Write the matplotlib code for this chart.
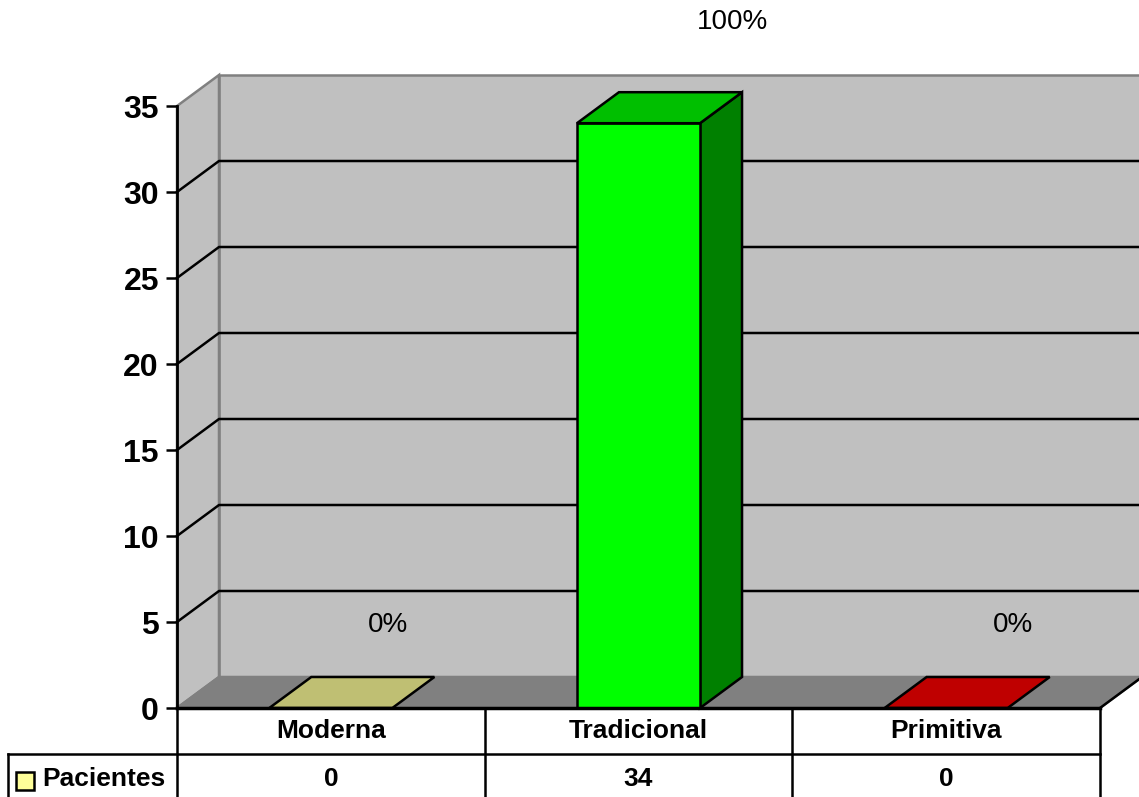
import numpy as np
import matplotlib
matplotlib.use("Agg")
from matplotlib import pyplot as plt
from matplotlib.patches import Polygon, Rectangle
import matplotlib.transforms as mtransforms
from matplotlib.colors import to_rgb

categorias = ["Moderna", "Tradicional", "Primitiva"]
pacientes = [0, 34, 0]
serie = "Pacientes"
colores = ["#FFFF99", "#00FF00", "#FF0000"]
yticks = [0, 5, 10, 15, 20, 25, 30, 35]

# offsets of the percentage labels (category units, value units)
etiqueta_dx = [0.186, 0.307, 0.217]
etiqueta_dy = [4.8, 5.9, 4.8]

plt.rcParams['font.family'] = ['Liberation Sans', 'DejaVu Sans']

W, H = 1139, 797
fig = plt.figure(figsize=(W / 100, H / 100), dpi=100)
ax = fig.add_axes([177 / W, 89 / H, 923 / W, 602 / H])
ax.set_xlim(0, len(categorias))
ax.set_ylim(0, 35)

n = len(categorias)
# depth of the box in data units
DX = 42 * n / 923
DY = 31 * 35 / 602
LW = 1.8

pared = "#C0C0C0"
piso = "#808080"
borde = "#808080"

# walls and floor
ax.add_patch(Polygon([(DX, DY), (n + DX, DY), (n + DX, 35 + DY), (DX, 35 + DY)],
                     closed=True, fc=pared, ec=borde, lw=LW, clip_on=False, zorder=1))
ax.add_patch(Polygon([(0, 0), (DX, DY), (DX, 35 + DY), (0, 35)],
                     closed=True, fc=pared, ec=borde, lw=LW, clip_on=False, zorder=1))
ax.add_patch(Polygon([(0, 0), (n, 0), (n + DX, DY), (DX, DY)],
                     closed=True, fc=piso, ec=borde, lw=LW, clip_on=False, zorder=1))
ax.plot([n, n + DX], [0, DY], color='black', lw=LW, clip_on=False, zorder=2)

# grid lines on side and back walls
for t in yticks[1:-1]:
    ax.plot([0, DX, n + DX], [t, t + DY, t + DY], color='black', lw=LW,
            clip_on=False, zorder=2)

# 3D bars
ancho = 0.4
for i, (v, c) in enumerate(zip(pacientes, colores)):
    base = np.array(to_rgb(c))
    x0 = i + 0.5 - ancho / 2
    x1 = x0 + ancho
    if v > 0:
        lado = [(x1, 0), (x1 + DX, DY), (x1 + DX, v + DY), (x1, v)]
        ax.add_patch(Polygon(lado, closed=True, fc=base * 0.5, ec='black',
                             lw=LW, clip_on=False, zorder=3))
        ax.bar(i + 0.5, v, width=ancho, color=c, edgecolor='black', lw=LW,
               zorder=4, clip_on=False)
    tapa = [(x0, v), (x1, v), (x1 + DX, v + DY), (x0 + DX, v + DY)]
    ax.add_patch(Polygon(tapa, closed=True, fc=base * 0.75, ec='black',
                         lw=LW, clip_on=False, zorder=4))

# percentage labels
total = sum(pacientes)
for i, v in enumerate(pacientes):
    ax.text(i + 0.5 + etiqueta_dx[i], v + etiqueta_dy[i], f"{round(v * 100 / total)}%",
            ha='center', va='center', fontsize=20, color='black', clip_on=False)

# axes styling
for s in ['top', 'right']:
    ax.spines[s].set_visible(False)
ax.spines['left'].set_linewidth(2)
ax.spines['bottom'].set_linewidth(2.5)
ax.spines['left'].set_zorder(5)
ax.spines['bottom'].set_zorder(5)
ax.set_xticks([])
ax.set_yticks(yticks)
ax.tick_params(axis='y', length=8, width=1.8, pad=5, labelsize=23)
for lab in ax.get_yticklabels():
    lab.set_fontweight('bold')
ax.set_facecolor('none')

# data table under the chart
trans = mtransforms.blended_transform_factory(ax.transData, ax.transAxes)
fila = 46 / 602
fondo = 89 / 602
izq = -169 / (923 / n)
for i in range(n + 1):
    ax.plot([i, i], [0, -fondo], color='black', lw=LW, transform=trans, clip_on=False)
ax.plot([izq, n], [-fila, -fila], color='black', lw=LW, transform=trans, clip_on=False)
ax.plot([izq, izq], [-fila, -fondo], color='black', lw=LW, transform=trans, clip_on=False)

for i, (cat, v) in enumerate(zip(categorias, pacientes)):
    ax.text(i + 0.5, -23 / 602, cat, ha='center', va='center', fontsize=19,
            fontweight='bold', transform=trans)
    ax.text(i + 0.5, -71 / 602, str(v), ha='center', va='center', fontsize=19,
            fontweight='bold', transform=trans)

ax.add_patch(Rectangle((-161 / (923 / n), -82 / 602), 18 / (923 / n), 18 / 602,
                       fc=colores[0], ec='black', lw=LW, transform=trans, clip_on=False))
ax.text(-135 / (923 / n), -71 / 602, serie, ha='left', va='center', fontsize=19,
        fontweight='bold', transform=trans)

fig.savefig('out.png', dpi=100)
